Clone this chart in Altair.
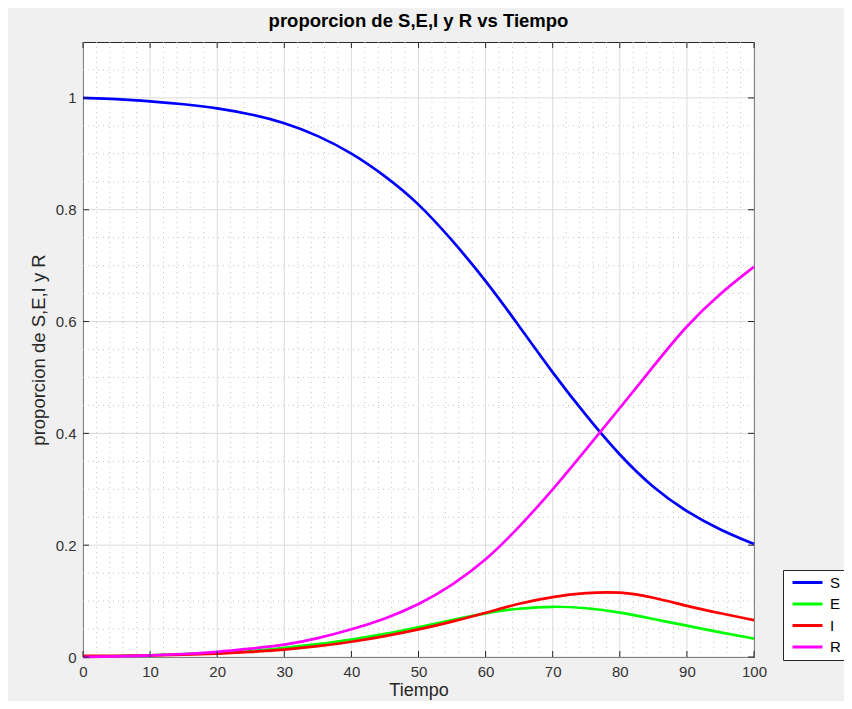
import altair as alt
import pandas as pd
import numpy as np

# ---- data ----
tiempo = [0, 5, 10, 15, 20, 25, 30, 35, 40, 45, 50, 55, 60, 65, 70, 75, 80, 85, 90, 95, 100]
S = [1.000, 0.998, 0.994, 0.989, 0.982, 0.971, 0.956, 0.933, 0.902, 0.861, 0.812, 0.746,
     0.674, 0.592, 0.508, 0.431, 0.360, 0.302, 0.259, 0.227, 0.202]
E = [0.000, 0.002, 0.003, 0.005, 0.007, 0.010, 0.016, 0.023, 0.031, 0.041, 0.053, 0.066,
     0.079, 0.087, 0.091, 0.088, 0.080, 0.068, 0.056, 0.044, 0.033]
I = [0.002, 0.002, 0.003, 0.004, 0.006, 0.009, 0.013, 0.019, 0.027, 0.037, 0.049, 0.063,
     0.079, 0.096, 0.108, 0.115, 0.117, 0.107, 0.091, 0.078, 0.066]
R = [0.000, 0.001, 0.003, 0.005, 0.009, 0.015, 0.021, 0.033, 0.049, 0.068, 0.093, 0.128,
     0.172, 0.232, 0.299, 0.372, 0.445, 0.520, 0.594, 0.651, 0.698]
series = ["S", "E", "I", "R"]
colors = ["#0000ff", "#00ff00", "#ff0000", "#ff00ff"]

x_major = [0, 10, 20, 30, 40, 50, 60, 70, 80, 90, 100]
y_major = [0, 0.2, 0.4, 0.6, 0.8, 1.0]
x_minor = [v for v in range(0, 101, 2) if v % 10 != 0]
y_minor = [round(v, 2) for v in np.arange(0.05, 1.1, 0.05) if abs(v / 0.2 - round(v / 0.2)) > 1e-6]

df = pd.DataFrame({
    "t": tiempo * 4,
    "v": S + E + I + R,
    "serie": [s for s in series for _ in tiempo],
})

W, H = 671, 615
xs = alt.Scale(domain=[0, 100], nice=False, zero=False)
ys = alt.Scale(domain=[0, 1.1], nice=False, zero=False)
FONT = "Liberation Sans"

x_axis = alt.Axis(
    values=x_major, title="Tiempo", grid=False, domain=False, ticks=False, labelFlush=False,
    labelFontSize=15, labelColor="#333333", labelPadding=7, labelFont=FONT,
    titleFontSize=18, titleFontWeight="normal", titleColor="#262626", titlePadding=2,
    titleFont=FONT)
y_axis = alt.Axis(
    values=y_major, format="~g", title="proporcion de S,E,I y R", grid=False, domain=False,
    ticks=False, labelFlush=False, labelFontSize=15, labelColor="#333333", labelPadding=7,
    labelFont=FONT, titleFontSize=18.5, titleFontWeight="normal", titleColor="#262626",
    titleFont=FONT, titleAngle=270, titleX=-45, titleY=H / 2, titleAlign="center",
    titleBaseline="middle")

X = lambda f: alt.X(f, scale=xs, axis=x_axis)
Y = lambda f: alt.Y(f, scale=ys, axis=y_axis)

dx_minor = pd.DataFrame({"t": x_minor})
dy_minor = pd.DataFrame({"v": y_minor})
dx_major = pd.DataFrame({"t": x_major})
dy_major = pd.DataFrame({"v": y_major})

minor_x = alt.Chart(dx_minor).mark_rule(color="#c4c4c4", strokeDash=[1, 4], strokeWidth=1).encode(
    x=X("t:Q"))
minor_y = alt.Chart(dy_minor).mark_rule(color="#c4c4c4", strokeDash=[1, 4], strokeWidth=1).encode(
    y=Y("v:Q"))
major_x = alt.Chart(dx_major).mark_rule(color="#dcdcdc", strokeWidth=1).encode(x=X("t:Q"))
major_y = alt.Chart(dy_major).mark_rule(color="#dcdcdc", strokeWidth=1).encode(y=Y("v:Q"))

lines = alt.Chart(df).mark_line(strokeWidth=2.7, interpolate="basis").encode(
    x=X("t:Q"),
    y=Y("v:Q"),
    color=alt.Color("serie:N", sort=series, scale=alt.Scale(domain=series, range=colors),
                    legend=alt.Legend(
                        title=None, orient="none", legendX=700, legendY=528,
                        symbolType="M-3.75,0H3.75", symbolSize=64, symbolStrokeWidth=3,
                        symbolOffset=12, labelOffset=15, labelFontSize=15,
                        labelColor="#000000", labelFont=FONT, padding=5, rowPadding=5.5,
                        fillColor="#ffffff", strokeColor="#262626")),
)

tick_b = alt.Chart(dx_major).mark_rule(color="#262626").encode(
    x=X("t:Q"), y=alt.value(H), y2=alt.value(H - 6))
tick_t = alt.Chart(dx_major).mark_rule(color="#262626").encode(
    x=X("t:Q"), y=alt.value(0), y2=alt.value(6))
tick_l = alt.Chart(dy_major).mark_rule(color="#262626").encode(
    y=Y("v:Q"), x=alt.value(0), x2=alt.value(6))
tick_r = alt.Chart(dy_major).mark_rule(color="#262626").encode(
    y=Y("v:Q"), x=alt.value(W - 6), x2=alt.value(W))

chart = alt.layer(minor_x, minor_y, major_x, major_y, lines, tick_b, tick_t, tick_l, tick_r).properties(
    width=W, height=H,
    title=alt.TitleParams("proporcion de S,E,I y R vs Tiempo", fontSize=18.5, fontWeight="bold",
                          color="#000000", font=FONT, anchor="middle", frame="group",
                          baseline="alphabetic", offset=-4),
    autosize=alt.AutoSizeParams(type="none"),
    padding={"left": 75, "top": 34, "right": 90, "bottom": 44},
    background="#f0f0f0",
).configure_view(stroke="#262626", strokeWidth=1, fill="#ffffff")

chart.save("out.html", embed_options={"renderer": "svg", "actions": False})
